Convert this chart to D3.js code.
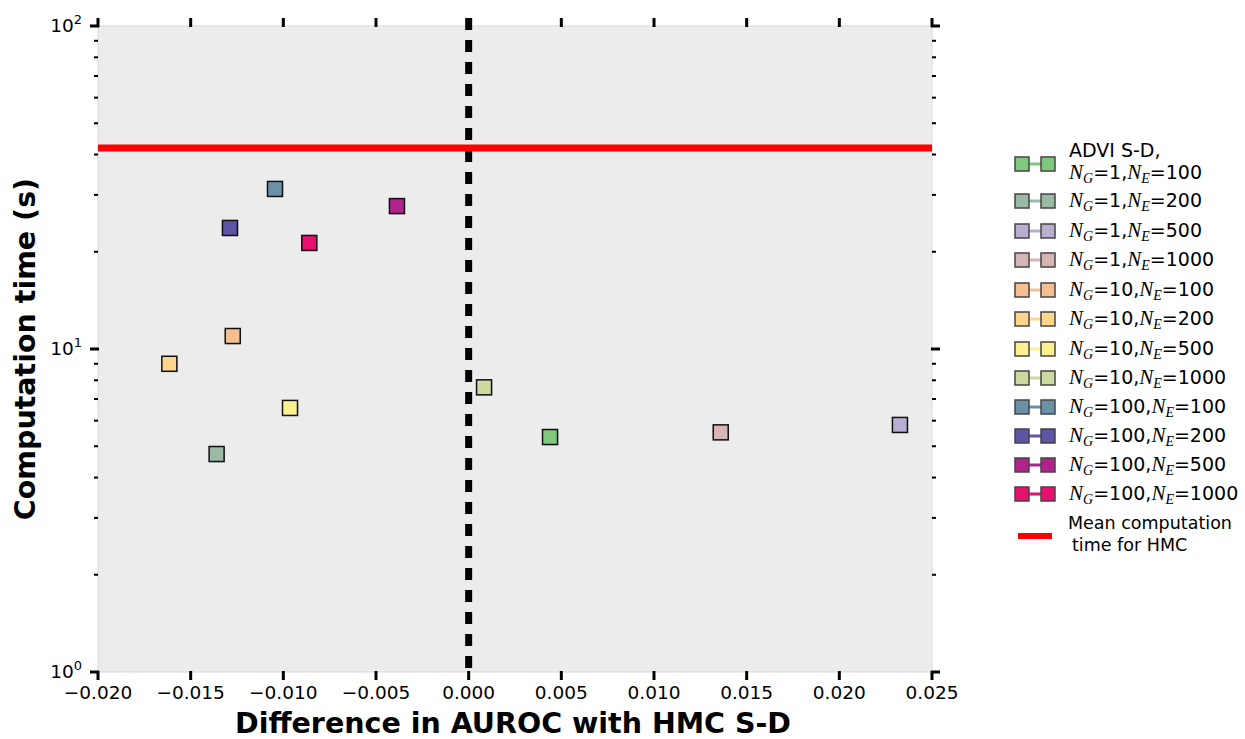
<!DOCTYPE html>
<html>
<head>
<meta charset="utf-8">
<script src="https://d3js.org/d3.v7.min.js"></script>
<style>
  body { margin: 0; background: #fff; }
  svg text { font-family: "DejaVu Sans", sans-serif; fill: #000; }
  .math { font-family: "Liberation Serif", "DejaVu Serif", serif; font-style: italic; }
</style>
</head>
<body>
<div id="chart"></div>
<script>
// Series: N_G, N_E, AUROC difference, computation time (s), colour
const nG = [1, 1, 1, 1, 10, 10, 10, 10, 100, 100, 100, 100];
const nE = [100, 200, 500, 1000, 100, 200, 500, 1000, 100, 200, 500, 1000];
const aurocDiff = [0.00439, -0.0136, 0.02327, 0.0136, -0.01273, -0.01615, -0.00964, 0.00083, -0.01045, -0.01288, -0.00387, -0.0086];
const compTime = [5.34, 4.73, 5.82, 5.52, 10.97, 9.0, 6.57, 7.61, 31.3, 23.7, 27.7, 21.3];
const colors = ["#7fc97f", "#9bbaa6", "#b9aed0", "#d8b5b5", "#f6bf8f", "#fdd68c", "#fff08f", "#ccd99f",
                "#6b91a8", "#5c54a4", "#b0228c", "#e8106f"];
const hmcMeanTime = 41.9;
const xTicks = [-0.020, -0.015, -0.010, -0.005, 0.000, 0.005, 0.010, 0.015, 0.020, 0.025];
const yDecades = [1, 10, 100];

const W = 1245, H = 739;
const margin = { top: 26, right: 313, bottom: 67, left: 98 };
const width = W - margin.left - margin.right;
const height = H - margin.top - margin.bottom;

const root = d3.select("#chart").append("svg")
    .attr("width", W)
    .attr("height", H);

const svg = root.append("g")
    .attr("transform", `translate(${margin.left},${margin.top})`);

const x = d3.scaleLinear().domain([-0.02, 0.025]).range([0, width]);
const y = d3.scaleLog().domain([1, 100]).range([height, 0]);

// background
svg.append("rect")
    .attr("width", width)
    .attr("height", height)
    .attr("fill", "#ececec")
    .attr("stroke", "#dadada")
    .attr("stroke-width", 1);

// minor ticks on log axis
const minorTicks = [];
[1, 10].forEach(d => { for (let k = 2; k <= 9; k++) minorTicks.push(d * k); });

function drawTicks(side) {
    const g = svg.append("g");
    if (side === "left" || side === "right") {
        const x0 = side === "left" ? 0 : width;
        const dir = side === "left" ? -1 : 1;
        g.selectAll(".minor").data(minorTicks).enter().append("line")
            .attr("x1", x0).attr("x2", x0 + dir * 4)
            .attr("y1", d => y(d)).attr("y2", d => y(d))
            .attr("stroke", "#000").attr("stroke-width", 2);
        g.selectAll(".major").data(yDecades).enter().append("line")
            .attr("x1", x0 - dir * 1).attr("x2", x0 + dir * 8)
            .attr("y1", d => y(d)).attr("y2", d => y(d))
            .attr("stroke", "#000").attr("stroke-width", 3);
    } else {
        const y0 = side === "bottom" ? height : 0;
        const dir = side === "bottom" ? 1 : -1;
        g.selectAll(".major").data(xTicks).enter().append("line")
            .attr("x1", d => x(d)).attr("x2", d => x(d))
            .attr("y1", y0 - dir * 1).attr("y2", y0 + dir * 8)
            .attr("stroke", "#000").attr("stroke-width", 3);
    }
}
["left", "right", "top", "bottom"].forEach(drawTicks);

// x tick labels
svg.append("g").selectAll("text").data(xTicks).enter().append("text")
    .attr("x", d => x(d))
    .attr("y", height + 27)
    .attr("text-anchor", "middle")
    .style("font-size", "18.5px")
    .text(d => d3.format(".3f")(d).replace("-", "\u2212"));

// y tick labels 10^n
const yl = svg.append("g").selectAll("text").data(yDecades).enter().append("text")
    .attr("x", -16)
    .attr("y", d => y(d) + 6)
    .attr("text-anchor", "end")
    .style("font-size", "18.5px");
yl.append("tspan").text("10");
yl.append("tspan").attr("dy", -8).style("font-size", "13px").text(d => Math.round(Math.log10(d)));

// vertical dashed line at 0
svg.append("line")
    .attr("x1", x(0)).attr("x2", x(0))
    .attr("y1", -8).attr("y2", height)
    .attr("stroke", "#000")
    .attr("stroke-width", 7)
    .attr("stroke-dasharray", "12,10");

// HMC mean line
svg.append("line")
    .attr("x1", 0).attr("x2", width)
    .attr("y1", y(hmcMeanTime)).attr("y2", y(hmcMeanTime))
    .attr("stroke", "#ff0000")
    .attr("stroke-width", 7);

// markers
const ms = 15;
const idx = d3.range(nG.length);
svg.append("g").selectAll("rect.shadow").data(idx).enter().append("rect")
    .attr("x", i => x(aurocDiff[i]) - ms / 2 + 1)
    .attr("y", i => y(compTime[i]) - ms / 2 + 1)
    .attr("width", ms).attr("height", ms)
    .attr("fill", "#000").attr("opacity", 0.12);
svg.append("g").selectAll("rect.pt").data(idx).enter().append("rect")
    .attr("x", i => x(aurocDiff[i]) - ms / 2)
    .attr("y", i => y(compTime[i]) - ms / 2)
    .attr("width", ms).attr("height", ms)
    .attr("fill", i => colors[i])
    .attr("stroke", "#111")
    .attr("stroke-width", 1.5);

// axis titles
root.append("text")
    .attr("x", margin.left + width / 2 - 2)
    .attr("y", 733)
    .attr("text-anchor", "middle")
    .style("font-size", "28.5px")
    .style("font-weight", "bold")
    .text("Difference in AUROC with HMC S-D");

root.append("text")
    .attr("transform", `translate(35,${margin.top + height / 2}) rotate(-90)`)
    .attr("text-anchor", "middle")
    .style("font-size", "28.5px")
    .style("font-weight", "bold")
    .text("Computation time (s)");

// legend
const legend = root.append("g").attr("transform", "translate(1015,0)");
const rowY = [164, 201, 231, 260, 290, 319, 349, 378, 407, 436, 465, 494];
idx.forEach(i => {
    const g = legend.append("g").attr("transform", `translate(0,${rowY[i]})`);
    g.append("line").attr("x1", 7).attr("x2", 33).attr("y1", 0).attr("y2", 0)
        .attr("stroke", colors[i]).attr("stroke-width", 3);
    [0, 26].forEach(dx => {
        g.append("rect").attr("x", dx).attr("y", -7).attr("width", 14).attr("height", 14)
            .attr("fill", colors[i]).attr("stroke", "#444").attr("stroke-width", 1.5);
    });
    const t = g.append("text").attr("x", 54).attr("y", i === 0 ? 15 : 6).style("font-size", "19px");
    if (i === 0) {
        legend.append("text").attr("x", 54).attr("y", rowY[i] - 7).style("font-size", "19px").text("ADVI S-D,");
    }
    t.append("tspan").attr("class", "math").style("font-size", "21px").text("N");
    t.append("tspan").attr("class", "math").attr("dy", 4).style("font-size", "14px").text("G");
    t.append("tspan").attr("dy", -4).text("=" + nG[i] + ",");
    t.append("tspan").attr("class", "math").style("font-size", "21px").text("N");
    t.append("tspan").attr("class", "math").attr("dy", 4).style("font-size", "14px").text("E");
    t.append("tspan").attr("dy", -4).text("=" + nE[i]);
});
legend.append("line").attr("x1", 3).attr("x2", 37).attr("y1", 536).attr("y2", 536)
    .attr("stroke", "#ff0000").attr("stroke-width", 6);
legend.append("text").attr("x", 53).attr("y", 529).style("font-size", "17.5px").text("Mean computation");
legend.append("text").attr("x", 57).attr("y", 551).style("font-size", "17.5px").text("time for HMC");
</script>
</body>
</html>
